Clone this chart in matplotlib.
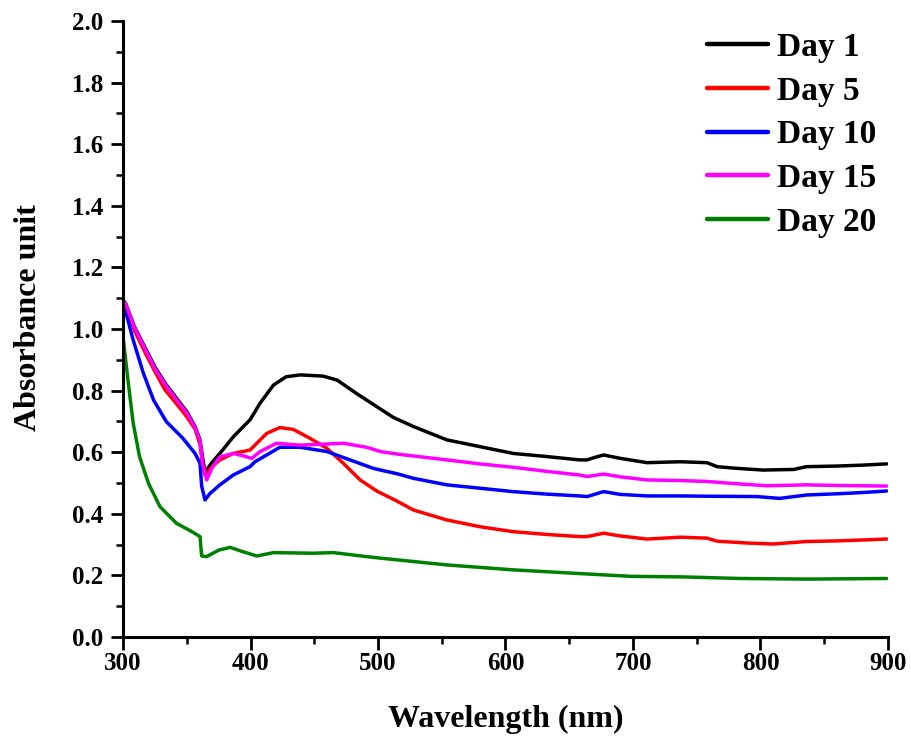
import matplotlib
matplotlib.use("Agg")
import matplotlib.pyplot as plt
from matplotlib.ticker import MultipleLocator

plt.rcParams['font.family'] = ['Liberation Serif', 'DejaVu Serif']
plt.rcParams['font.weight'] = 'bold'

# UV-Vis absorbance spectra over storage time
wl_day1 = [300, 302, 309, 317, 325, 333, 342, 350, 356.5, 360.4, 362.5, 364.3, 370, 376,
           386.5, 399.6, 402, 407.5, 418, 428, 439, 457, 468, 483, 499, 512, 528, 554, 580,
           606, 632, 658, 664, 670, 677, 690, 711, 737, 758, 766, 780, 802, 826, 836, 860,
           880, 899]
abs_day1 = [1.094, 1.083, 1.007, 0.942, 0.877, 0.824, 0.775, 0.732, 0.683, 0.640, 0.58,
            0.535, 0.568, 0.596, 0.650, 0.705, 0.721, 0.759, 0.818, 0.845, 0.851, 0.847,
            0.834, 0.791, 0.748, 0.713, 0.683, 0.640, 0.618, 0.596, 0.586, 0.575, 0.575,
            0.583, 0.591, 0.580, 0.566, 0.569, 0.566, 0.553, 0.548, 0.542, 0.544, 0.553,
            0.555, 0.558, 0.562]

wl_day5 = [300, 302, 309, 317, 325, 333, 342, 350, 356.5, 360.4, 362.5, 364.3, 370, 376,
           386.5, 399.6, 403.5, 412.7, 423, 433.6, 446.7, 459.8, 472.8, 486, 499, 515, 528,
           554, 580, 606, 632, 658, 664, 677, 690, 711, 737, 758, 766, 790, 810, 836, 860,
           880, 899]
abs_day5 = [1.094, 1.08, 0.995, 0.926, 0.862, 0.802, 0.757, 0.715, 0.675, 0.625, 0.56,
            0.526, 0.553, 0.575, 0.596, 0.607, 0.623, 0.661, 0.680, 0.674, 0.645, 0.613,
            0.564, 0.510, 0.474, 0.441, 0.412, 0.380, 0.358, 0.342, 0.333, 0.326, 0.326,
            0.337, 0.328, 0.318, 0.324, 0.321, 0.311, 0.305, 0.302, 0.310, 0.312, 0.315,
            0.318]

wl_day10 = [300, 302, 308, 316, 324, 334, 347, 356.5, 360.4, 361.7, 364.3, 368, 376, 386.5,
            399.6, 403.5, 412.7, 423, 439, 460, 478, 496, 502, 515, 528, 554, 580, 606, 632,
            658, 664, 677, 690, 711, 737, 760, 797, 815, 836, 860, 880, 899]
abs_day10 = [1.065, 1.058, 0.964, 0.856, 0.769, 0.699, 0.645, 0.596, 0.564, 0.49, 0.445,
             0.465, 0.494, 0.526, 0.553, 0.569, 0.591, 0.616, 0.616, 0.602, 0.575, 0.548,
             0.542, 0.530, 0.515, 0.494, 0.483, 0.472, 0.464, 0.458, 0.456, 0.472, 0.463,
             0.458, 0.458, 0.457, 0.456, 0.450, 0.461, 0.465, 0.469, 0.474]

wl_day15 = [300, 302, 309, 317, 325, 333, 342, 350, 356.5, 360.4, 362.5, 365.6, 370, 376,
            386.5, 394.4, 401, 407.5, 420.5, 439, 473, 491, 502, 515, 554, 580, 606, 632,
            658, 664, 677, 690, 711, 737, 758, 780, 805, 836, 860, 880, 899]
abs_day15 = [1.094, 1.083, 1.005, 0.938, 0.872, 0.82, 0.77, 0.728, 0.680, 0.637, 0.56,
             0.51, 0.55, 0.585, 0.596, 0.588, 0.580, 0.602, 0.629, 0.623, 0.629, 0.616,
             0.602, 0.594, 0.575, 0.562, 0.551, 0.538, 0.526, 0.521, 0.529, 0.520, 0.510,
             0.508, 0.505, 0.498, 0.491, 0.494, 0.492, 0.491, 0.490]

wl_day20 = [300, 304, 308, 313, 320, 329, 342, 354, 360.4, 361.7, 365.6, 375, 384, 394, 405,
            418, 449, 465, 491, 502, 554, 606, 658, 698, 740, 784, 836, 899]
abs_day20 = [0.975, 0.83, 0.694, 0.585, 0.499, 0.423, 0.369, 0.342, 0.326, 0.263, 0.261,
             0.282, 0.291, 0.277, 0.263, 0.274, 0.272, 0.274, 0.261, 0.256, 0.234, 0.218,
             0.206, 0.197, 0.195, 0.190, 0.188, 0.190]

labels = ['Day 1', 'Day 5', 'Day 10', 'Day 15', 'Day 20']
colors = ['#000000', '#ff0000', '#0000ff', '#ff00ff', '#008000']

xticks = [300, 400, 500, 600, 700, 800, 900]
yticks = [0.0, 0.2, 0.4, 0.6, 0.8, 1.0, 1.2, 1.4, 1.6, 1.8, 2.0]

series = [(wl_day1, abs_day1), (wl_day5, abs_day5), (wl_day10, abs_day10),
          (wl_day15, abs_day15), (wl_day20, abs_day20)]

fig = plt.figure(figsize=(9.12, 7.42), dpi=100)
ax = fig.add_axes([123 / 912, 1 - 637 / 742, 765 / 912, 616 / 742])

for (x, y), lab, c in zip(series, labels, colors):
    ax.plot(x, y, color=c, lw=2.5, label=lab, solid_capstyle='round',
            solid_joinstyle='round')

ax.set_xlim(300, 900)
ax.set_ylim(0, 2.0)
ax.set_xticks(xticks)
ax.set_yticks(yticks)
ax.set_xticklabels([str(t) for t in xticks])
ax.set_yticklabels([f"{t:.1f}" for t in yticks])
ax.xaxis.set_minor_locator(MultipleLocator(50))
ax.yaxis.set_minor_locator(MultipleLocator(0.1))

for side in ('top', 'right'):
    ax.spines[side].set_visible(False)
for side in ('left', 'bottom'):
    ax.spines[side].set_linewidth(2.2)

ax.tick_params(which='major', direction='out', length=9, width=2.0, labelsize=18)
ax.tick_params(which='minor', direction='out', length=5, width=1.8)
ax.tick_params(axis='x', which='major', pad=2)
ax.tick_params(axis='y', which='major', pad=5)
for lbl in ax.get_xticklabels() + ax.get_yticklabels():
    lbl.set_fontweight('bold')

ax.set_xlabel('Wavelength (nm)', fontsize=23, fontweight='bold')
ax.set_ylabel('Absorbance unit', fontsize=23, fontweight='bold')
ax.xaxis.set_label_coords(0.5, -0.111)
ax.yaxis.set_label_coords(-0.105, 0.519)

leg = ax.legend(loc='upper left', bbox_to_anchor=(0.763, 0.982), frameon=False,
                handlelength=1.85, handletextpad=0.25, labelspacing=0.38,
                borderpad=0, borderaxespad=0, prop={'weight': 'bold', 'size': 24})
for line in leg.get_lines():
    line.set_linewidth(3.2)

fig.savefig('out.png', dpi=100)
